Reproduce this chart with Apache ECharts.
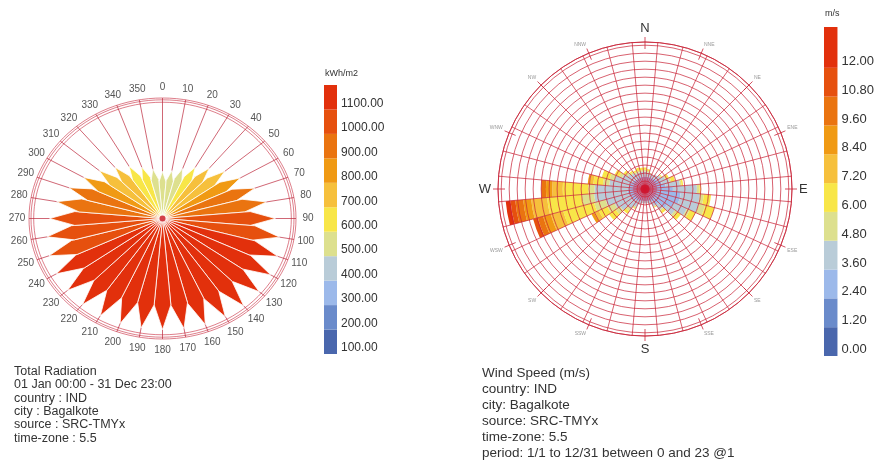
<!DOCTYPE html>
<html><head><meta charset="utf-8">
<script src="https://cdn.jsdelivr.net/npm/echarts@6/dist/echarts.min.js"></script>
<style>html,body{margin:0;padding:0;background:#fff}#c{width:877px;height:461px}</style>
</head><body><div id="c"></div>
<script>
// ---------- Radiation rose data ----------
const radAngles = [0,10,20,30,40,50,60,70,80,90,100,110,120,130,140,150,160,170,180,190,200,210,220,230,240,250,260,270,280,290,300,310,320,330,340,350];
const radValues = [530,545,585,640,700,770,840,910,970,1030,1080,1110,1130,1140,1140,1135,1130,1120,1115,1115,1120,1125,1125,1120,1110,1095,1065,1030,985,920,850,780,710,650,600,560];
const radEdges = [100,200,300,400,500,600,700,800,900,1000,1100,1200];
const radTickLabels = ['100.00','200.00','300.00','400.00','500.00','600.00','700.00','800.00','900.00','1000.00','1100.00'];
const palette = ['#4a67ad','#6a8bcb','#9cb9ea','#b9ccd8','#dde08e','#f8e648','#f6c03c','#f09a14','#ea7410','#e6500e','#e2300c'];

// ---------- Wind rose data ----------
const windDirs = ['0','10','20','30','40','50','60','70','80','90','100','110','120','130','140','150','160','170','180','190','200','210','220','230','240','250','260','270','280','290','300','310','320','330','340','350'];
const speedEdges = [0,1.2,2.4,3.6,4.8,6.0,7.2,8.4,9.6,10.8,12.0,13.7];
const compassNames = ['N','NNE','NE','ENE','E','ESE','SE','SSE','S','SSW','SW','WSW','W','WNW','NW','NNW'];
// frequency (ring units) per direction for each speed bin
const wind0_12  = [0.2,0.2,0.2,0.2,0.2,0.2,0.2,0.2,0.2,0.2,0.2,0.2,0.2,0.2,0.2,0.2,0.2,0.2,0.2,0.2,0.2,0.2,0.2,0.2,0.2,0.2,0.2,0.2,0.2,0.2,0.2,0.2,0.2,0.2,0.2,0.2];
const wind12_24 = [0.4,0.4,0.4,0.4,0.4,0.4,0.4,0.4,0.4,0.5,0.5,0.5,0.5,0.4,0.4,0.4,0.4,0.4,0.4,0.4,0.4,0.4,0.4,0.4,0.4,0.4,0.4,0.4,0.4,0.4,0.4,0.4,0.4,0.4,0.4,0.4];
const wind24_36 = [1.0,1.0,1.0,1.0,1.1,1.2,1.4,1.6,2.0,2.8,3.8,3.8,3.3,2.8,1.8,1.2,1.0,0.9,0.9,0.9,1.0,1.1,1.2,1.4,1.4,1.5,1.6,1.5,1.4,1.4,1.2,1.1,1.0,1.0,1.0,1.0];
const wind36_48 = [0.6,0.5,0.4,0.4,0.5,0.6,0.8,1.0,1.8,3.0,2.4,2.5,1.8,1.2,0.8,0.6,0.4,0.3,0.3,0.3,0.4,0.8,1.2,1.8,2.2,3.0,4.2,4.2,2.5,2.0,1.4,1.0,0.8,0.6,0.6,0.6];
const wind48_60 = [0.2,0.2,0.1,0,0,0.1,0.2,0.2,0.2,0.3,0.5,0.8,0.4,0.3,0.2,0.1,0,0,0,0,0,0.2,0.4,0.7,1.0,1.5,1.6,0.8,0.8,0.6,0.4,0.3,0.2,0.2,0.2,0.2];
const wind60_72 = [0.3,0.2,0,0,0,0.1,0.3,0.5,0.2,0.2,0.9,1.2,0.8,0.6,0.3,0.1,0,0,0,0,0,0.1,0.4,1.0,1.2,4.0,4.3,3.2,1.2,1.0,0.6,0.3,0.2,0.2,0.4,0.3];
const wind72_84 = [0,0,0,0,0,0,0,0,0,0,0,0,0,0,0,0,0,0,0,0,0,0,0,0,0.6,1.6,2.0,1.3,0.5,0,0,0,0,0,0,0];
const wind84_96 = [0,0,0,0,0,0,0,0,0,0,0,0,0,0,0,0,0,0,0,0,0,0,0,0,0.4,1.0,1.0,0.8,0.2,0,0,0,0,0,0,0];
const wind96_108 = [0,0,0,0,0,0,0,0,0,0,0,0,0,0,0,0,0,0,0,0,0,0,0,0,0,0.7,1.0,0.6,0,0,0,0,0,0,0,0];
const wind108_120 = [0,0,0,0,0,0,0,0,0,0,0,0,0,0,0,0,0,0,0,0,0,0,0,0,0,0.6,0.6,0,0,0,0,0,0,0,0,0];
const wind120_up = [0,0,0,0,0,0,0,0,0,0,0,0,0,0,0,0,0,0,0,0,0,0,0,0,0,0,0.6,0,0,0,0,0,0,0,0,0];
const windBins = [wind0_12,wind12_24,wind24_36,wind36_48,wind48_60,wind60_72,wind72_84,wind84_96,wind96_108,wind108_120,wind120_up];

const leftText = ['Total Radiation','01 Jan 00:00 - 31 Dec 23:00','country : IND','city : Bagalkote','source : SRC-TMYx','time-zone : 5.5'];
const rightText = ['Wind Speed (m/s)','country: IND','city: Bagalkote','source: SRC-TMYx','time-zone: 5.5','period: 1/1 to 12/31 between 0 and 23 @1'];

const FONT = 'Liberation Sans, Arial, sans-serif';
const RED = 'rgba(200,35,55,0.8)';
const RAD_MIN = 100, RAD_MAX = 1200;

function polarPt(api, r, deg) {
  const a = deg * Math.PI / 180;
  return api.coord([r * Math.sin(a), r * Math.cos(a)]);
}

const chart = echarts.init(document.getElementById('c'), null, {renderer: 'canvas'});

const series = [];
series.push({
  type: 'custom', coordinateSystem: 'cartesian2d', xAxisIndex: 0, yAxisIndex: 0, silent: true, z: 1,
  data: [[0.965],[0.985],[1.0]],
  renderItem(params, api) {
    const r = api.value(0);
    const pts = [];
    for (let d = 0; d <= 360; d += 3) pts.push(polarPt(api, r, d));
    return {type: 'polyline', shape: {points: pts}, style: {stroke: 'rgba(200,40,60,0.75)', lineWidth: 0.8, fill: null}};
  }
});
series.push({
  type: 'custom', coordinateSystem: 'cartesian2d', xAxisIndex: 0, yAxisIndex: 0, silent: true, z: 1,
  data: radAngles.map(a => [a]),
  renderItem(params, api) {
    const a = api.value(0);
    const c = polarPt(api, 0, a), e = polarPt(api, 1.0, a), t = polarPt(api, 1.09, a);
    return {type: 'group', children: [
      {type: 'line', shape: {x1: c[0], y1: c[1], x2: e[0], y2: e[1]}, style: {stroke: 'rgba(185,30,50,0.85)', lineWidth: 0.8}},
      {type: 'text', x: t[0], y: t[1], style: {text: String(a), fill: '#555', fontSize: 10, fontFamily: FONT, align: 'center', verticalAlign: 'middle'}}
    ]};
  }
});
series.push({
  type: 'custom', coordinateSystem: 'cartesian2d', xAxisIndex: 0, yAxisIndex: 0, silent: true, z: 2,
  data: radAngles.map((a, i) => [a, radValues[i]]),
  encode: {x: -1, y: -1},
  renderItem(params, api) {
    const a = api.value(0), v = api.value(1);
    const r = (v - RAD_MIN) / (RAD_MAX - RAD_MIN);
    const rs = r * 0.78;
    const pts = [polarPt(api, 0, a), polarPt(api, rs, a - 5), polarPt(api, r, a), polarPt(api, rs, a + 5)];
    return {type: 'polygon', shape: {points: pts}, style: {fill: api.visual('color'), stroke: '#fff', lineWidth: 0.8}};
  }
});
series.push({
  type: 'scatter', xAxisIndex: 0, yAxisIndex: 0, silent: true, z: 3,
  data: [[0, 0]], symbol: 'circle', symbolSize: 6, itemStyle: {color: '#c8101c'}
});
series.push({
  type: 'custom', coordinateSystem: 'cartesian2d', xAxisIndex: 1, yAxisIndex: 1, silent: true,
  data: palette.map((c, i) => [0, radEdges[i], radEdges[i + 1]]),
  renderItem(params, api) {
    const lo = api.coord([0, api.value(1)]), hi = api.coord([0, api.value(2)]);
    const w = api.size([1, 0])[0];
    return {type: 'rect', shape: {x: lo[0] - w / 2, y: hi[1], width: w, height: lo[1] - hi[1]}, style: {fill: palette[params.dataIndex]}};
  }
});
series.push({
  type: 'custom', coordinateSystem: 'cartesian2d', xAxisIndex: 2, yAxisIndex: 2, silent: true,
  data: palette.map((c, i) => [0, speedEdges[i], speedEdges[i + 1]]),
  renderItem(params, api) {
    const lo = api.coord([0, api.value(1)]), hi = api.coord([0, api.value(2)]);
    const w = api.size([1, 0])[0];
    return {type: 'rect', shape: {x: lo[0] - w / 2, y: hi[1], width: w, height: lo[1] - hi[1]}, style: {fill: palette[params.dataIndex]}};
  }
});
windBins.forEach((arr, k) => {
  series.push({
    type: 'bar', coordinateSystem: 'polar', polarIndex: 0, stack: 'wind', silent: true, z: 2,
    data: arr, barCategoryGap: '0%', itemStyle: {color: palette[k]}
  });
});
series.push({
  type: 'scatter', coordinateSystem: 'polar', polarIndex: 0, silent: true, z: 6,
  data: [[0, '0']], symbolSize: 24, itemStyle: {color: 'rgba(225,40,70,0.4)'}
});
series.push({
  type: 'scatter', coordinateSystem: 'polar', polarIndex: 0, silent: true, z: 7,
  data: [[0, '0']], symbolSize: 9, itemStyle: {color: '#d0102a'}
});

const option = {
  animation: false,
  backgroundColor: '#fff',
  textStyle: {fontFamily: FONT},
  title: [
    {text: leftText.join('\n'), left: 9, top: 360, textStyle: {fontSize: 12.5, lineHeight: 13.3, color: '#333', fontWeight: 'normal', fontFamily: FONT}},
    {text: rightText.join('\n'), left: 477, top: 360, textStyle: {fontSize: 13.5, lineHeight: 16, color: '#333', fontWeight: 'normal', fontFamily: FONT}},
    {text: 'kWh/m2', left: 320, top: 64, textStyle: {fontSize: 9, color: '#333', fontWeight: 'normal', fontFamily: FONT}},
    {text: 'm/s', left: 820, top: 4, textStyle: {fontSize: 9, color: '#333', fontWeight: 'normal', fontFamily: FONT}}
  ],
  grid: [
    {left: 29, top: 98, width: 267, height: 241},
    {left: 324, top: 85, width: 13, height: 269},
    {left: 824, top: 27, width: 15, height: 329}
  ],
  xAxis: [
    {gridIndex: 0, type: 'value', min: -1, max: 1, show: false},
    {gridIndex: 1, type: 'category', data: ['band'], show: false},
    {gridIndex: 2, type: 'category', data: ['band'], show: false}
  ],
  yAxis: [
    {gridIndex: 0, type: 'value', min: -1, max: 1, show: false},
    {gridIndex: 1, type: 'value', min: 100, max: 1200, interval: 100, position: 'right',
      axisLine: {show: false}, axisTick: {show: false}, splitLine: {show: false},
      axisLabel: {fontSize: 12, color: '#333', margin: 4, verticalAlign: 'bottom', fontFamily: FONT,
        formatter: v => { const i = radEdges.indexOf(Math.round(v)); return i >= 0 && i < radTickLabels.length ? radTickLabels[i] : ''; }}},
    {gridIndex: 2, type: 'value', min: 0, max: 13.7, interval: 1.2, position: 'right',
      axisLine: {show: false}, axisTick: {show: false}, splitLine: {show: false},
      axisLabel: {fontSize: 13, color: '#333', margin: 4, verticalAlign: 'bottom', fontFamily: FONT,
        formatter: v => v > 12.5 ? '' : v.toFixed(2)}}
  ],
  polar: [
    {center: [645, 189], radius: 147},
    {center: [645, 189], radius: 152}
  ],
  angleAxis: [
    {polarIndex: 0, type: 'category', data: windDirs, startAngle: 95, clockwise: true, boundaryGap: true, z: 5,
      axisLine: {show: true, lineStyle: {color: RED, width: 1}},
      axisTick: {show: false, interval: 0}, axisLabel: {show: false, interval: 0},
      splitLine: {show: true, interval: 0, lineStyle: {color: RED, width: 0.9}}},
    {polarIndex: 1, type: 'value', min: 0, max: 360, interval: 22.5, startAngle: 90, clockwise: true, z: 5,
      axisLine: {show: false}, splitLine: {show: false},
      axisTick: {show: true, inside: true, length: 12, lineStyle: {color: RED, width: 1}},
      axisLabel: {margin: 2, formatter: v => { const i = Math.round(v / 22.5); if (i >= 16) return ''; return (i % 4 === 0 ? '{big|' : '{small|') + compassNames[i] + '}'; },
        rich: {big: {fontSize: 13, color: '#333', fontFamily: FONT}, small: {fontSize: 5, color: '#999', fontFamily: FONT}}}}
  ],
  radiusAxis: [
    {polarIndex: 0, type: 'value', min: 0, max: 18.4, interval: 1, z: 5,
      axisLine: {show: false}, axisTick: {show: false}, axisLabel: {show: false},
      splitLine: {show: true, lineStyle: {color: RED, width: 0.9}}},
    {polarIndex: 1, type: 'value', min: 0, max: 1, show: false, axisLine: {show: false}, axisTick: {show: false}, axisLabel: {show: false}, splitLine: {show: false}}
  ],
  visualMap: [{
    type: 'piecewise', show: false, seriesIndex: 2, dimension: 1,
    pieces: palette.map((c, i) => ({gte: radEdges[i], lt: radEdges[i + 1], color: c}))
  }],
  series
};
chart.setOption(option);
</script></body></html>
